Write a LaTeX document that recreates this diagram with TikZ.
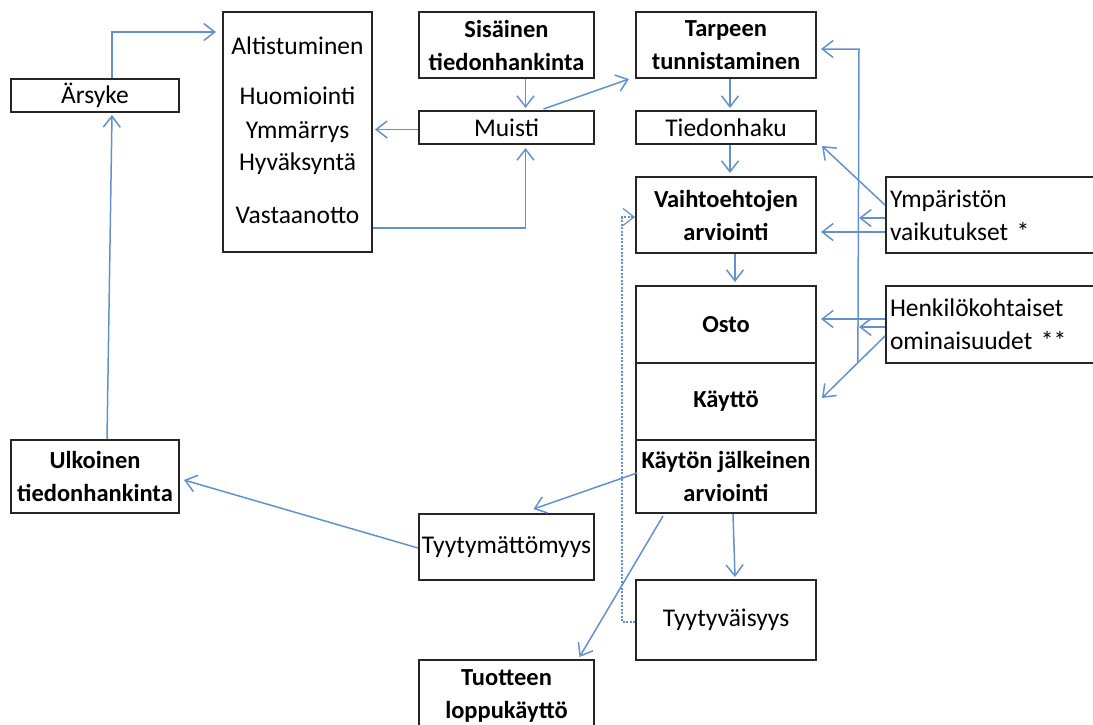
\documentclass[tikz,border=0pt]{standalone}
\usepackage{fontspec}
\setmainfont{Carlito}
\usetikzlibrary{arrows.meta,calc}
\definecolor{arrblue}{RGB}{100,145,205}
\definecolor{boxline}{RGB}{38,38,38}
\begin{document}
\begin{tikzpicture}[x=1pt,y=-1pt,
  box/.style={draw=boxline, line width=2pt, inner sep=0pt, align=center, font=\fontsize{25.5}{33}\selectfont},
  bbox/.style={box, font=\fontsize{24.5}{33}\selectfont\bfseries},
  lbl/.style={inner sep=0pt, font=\fontsize{25.5}{33}\selectfont, anchor=base},
  side/.style={box, minimum width=214pt, text width=206pt, align=left, inner xsep=4pt},
  arr/.style={draw=arrblue, line width=1.5pt, -{Straight Barb[length=11pt,width=17pt]}},
  dotl/.style={arr, dash pattern=on 2pt off 1.5pt, line width=1.2pt}]
\clip (0,0) rectangle (1093,724);
\fill[white] (0,0) rectangle (1093,724);

% nodes
\node[box, minimum width=168pt, minimum height=33pt] (arsyke) at (95,95.5) {Ärsyke};
\node[box, minimum width=149pt, minimum height=240pt] (alt) at (297.5,132) {};
\node[lbl] (t1) at (297.5,54) {Altistuminen};
\node[lbl] (t2) at (297.5,104) {Huomiointi};
\node[lbl] (t3) at (297.5,138) {Ymmärrys};
\node[lbl] (t4) at (297.5,170) {Hyväksyntä};
\node[lbl] (t5) at (297.5,223) {Vastaanotto};

\node[bbox, minimum width=175pt, minimum height=66pt] (sis) at (506.5,45) {Sisäinen\\tiedonhankinta};
\node[box, minimum width=175pt, minimum height=33pt] (muisti) at (506.5,127.5) {Muisti};
\node[bbox, minimum width=180pt, minimum height=66pt] (tarve) at (726,45) {Tarpeen\\tunnistaminen};
\node[box, minimum width=180pt, minimum height=33pt] (haku) at (726,127.5) {Tiedonhaku};
\node[bbox, minimum width=180pt, minimum height=76pt] (vaiht) at (726,215) {Vaihtoehtojen\\arviointi};
\node[bbox, minimum width=180pt, minimum height=77pt] (osto) at (726,324.5) {Osto};
\node[bbox, minimum width=180pt, minimum height=77pt] (kaytto) at (726,401.5) {Käyttö};
\node[bbox, minimum width=180pt, minimum height=73pt] (jalk) at (726,476.5) {Käytön jälkeinen\\arviointi};
\node[side, minimum height=76pt] (ymp) at (993,215) {Ympäristön\\vaikutukset *};
\node[side, minimum height=77pt] (henk) at (993,324.5) {Henkilökohtaiset\\ominaisuudet **};
\node[bbox, minimum width=168pt, minimum height=73pt] (ulk) at (95,476.5) {Ulkoinen\\tiedonhankinta};
\node[box, minimum width=175pt, minimum height=66pt] (tyma) at (506.5,547) {Tyytymättömyys};
\node[box, minimum width=180pt, minimum height=80pt] (tyyt) at (726,620) {Tyytyväisyys};
\node[bbox, minimum width=175pt, minimum height=72pt] (tuote) at (506.5,696) {Tuotteen\\loppukäyttö};

% connectors, left part
\coordinate (a1) at ($(arsyke.north)+(17,0)$);
\coordinate (a2) at ($(alt.north west)+(-6,21)$);
\draw[arr] (a1) |- (a2);
\draw[arr] ($(ulk.north)+(12,0)$) -- ($(arsyke.south)+(17,2)$);
\draw[arr] ($(sis.south)+(19,0)$) -- ($(muisti.north)+(19,-2)$);
\draw[arr] ($(muisti.north)+(37,-1)$) -- ($(tarve.south west)+(-6,0)$);
\draw[arr] ($(muisti.west)+(0,2)$) -- ($(alt.east)+(2,-2.5)$);
\draw[arr] ($(alt.east)+(0,96)$) -| ($(muisti.south)+(19,3)$);

% main column
\draw[arr] ($(tarve.south)+(4,0)$) -- ($(haku.north)+(4,-2)$);
\draw[arr] ($(haku.south)+(4,0)$) -- ($(vaiht.north)+(4,-3)$);
\draw[arr] ($(vaiht.south)+(9,0)$) -- ($(osto.north)+(9,-3)$);
\draw[arr] ($(jalk.south)+(7,0)$) -- ($(tyyt.north)+(9,-2)$);
\draw[arr] ($(jalk.west)+(2,-3.5)$) -- ($(tyma.north)+(27,-4)$);
\draw[arr] ($(tyma.west)+(0,1)$) -- ($(ulk.east)+(4,3.5)$);
\draw[arr] ($(jalk.south)+(-63,2)$) -- ($(tuote.north)+(73,-2)$);
\draw[dotl] ($(tyyt.west)+(0,2)$) -| ($(vaiht.west)+(-13,2)$) -- ($(vaiht.west)+(0,2)$);

% right side influences
\coordinate (vt) at ($(tarve.east)+(42,4)$);
\coordinate (h3) at ($(henk.west)+(0,11.5)$);
\coordinate (k3) at ($(kaytto.east)+(5,-3.5)$);
\coordinate (vb) at ($(h3)!0.4308!(k3)$);
\draw[arr] (h3) -- (k3);
\draw[arr] (vb) -- (vt) -- ($(tarve.east)+(4,4)$);
\draw[arr] ($(ymp.west)+(0,17)$) -- ($(vaiht.east)+(4,17)$);
\coordinate (y2) at ($(ymp.west)+(0,3)$);
\draw[arr] (y2) -- (y2 -| vt);
\draw[arr] ($(ymp.west)+(0,-10)$) -- ($(haku.south east)+(5,1)$);
\draw[arr] ($(henk.west)+(0,-5.5)$) -- ($(osto.east)+(4,-5.5)$);
\coordinate (h2) at ($(henk.west)+(0,2.5)$);
\draw[arr] (h2) -- (h2 -| vt);
\end{tikzpicture}
\end{document}
